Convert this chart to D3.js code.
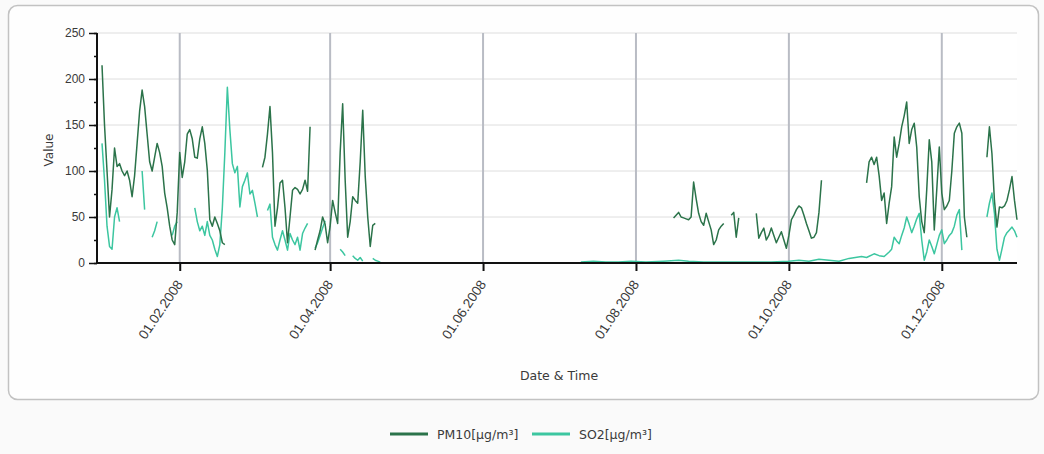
<!DOCTYPE html>
<html>
<head>
<meta charset="utf-8">
<script src="https://cdn.jsdelivr.net/npm/d3@7"></script>
<style>
	body { margin: 0; background: #fafafa; }
	svg { display: block; font-family: "DejaVu Sans", Verdana, sans-serif; }
	.axis text { font-size: 12px; fill: #3a3a3a; }
	.axis path, .axis line { stroke: #111; }
</style>
</head>
<body>
<div id="chart"></div>
<script>

// daily readings, dd.mm (2008), null = no data
var pm10Days = ["01.01","02.01","03.01","04.01","05.01","06.01","07.01","08.01","09.01","10.01","11.01","12.01","13.01","14.01","15.01","16.01","17.01","18.01","19.01","20.01","21.01","22.01","23.01","24.01","25.01","26.01","27.01","28.01","29.01","30.01","31.01","01.02","02.02","03.02","04.02","05.02","06.02","07.02","08.02","09.02","10.02","11.02","12.02","13.02","14.02","15.02","16.02","17.02","18.02","19.02","20.02",
	"05.03","06.03","07.03","08.03","09.03","10.03","11.03","12.03","13.03","14.03","15.03","16.03","17.03","18.03","19.03","20.03","21.03","22.03","23.03","24.03","25.03",
	"26.03","27.03","28.03","29.03","30.03","31.03","01.04","02.04","03.04","04.04","05.04","06.04","07.04","08.04","09.04","10.04","11.04","12.04","13.04","14.04","15.04","16.04","17.04","18.04","19.04","20.04",
	"16.08","17.08","18.08","19.08","20.08","21.08","22.08","23.08","24.08","25.08","26.08","27.08","28.08","29.08","30.08","31.08","01.09","02.09","03.09","04.09","05.09","06.09",
	"08.09","09.09","10.09","11.09","12.09",
	"18.09","19.09","20.09","21.09","22.09","23.09","24.09","25.09","26.09","27.09","28.09","29.09","30.09","01.10","02.10","03.10","04.10","05.10","06.10","07.10","08.10","09.10","10.10","11.10","12.10","13.10","14.10","15.10",
	"01.11","02.11","03.11","04.11","05.11","06.11","07.11","08.11","09.11","10.11","11.11","12.11","13.11","14.11","15.11","16.11","17.11","18.11","19.11","20.11","21.11","22.11","23.11","24.11","25.11","26.11","27.11","28.11","29.11","30.11","01.12","02.12","03.12","04.12","05.12","06.12","07.12","08.12","09.12","10.12","11.12","12.12",
	"19.12","20.12","21.12","22.12","23.12","24.12","25.12","26.12","27.12","28.12","29.12","30.12","31.12"]

var pm10Values = [215,150,100,50,80,125,105,108,100,95,100,90,72,95,130,165,188,170,140,110,100,115,130,120,105,76,60,40,25,20,55,120,93,110,140,145,135,115,114,135,148,130,101,47,40,50,43,35,22,20,null,
	104,115,140,170,120,40,60,87,90,60,22,50,79,82,80,75,80,90,78,148,null,
	14,25,35,50,42,22,40,68,55,43,120,173,90,28,45,72,68,65,110,166,94,50,18,41,43,null,
	49,52,55,50,49,48,47,50,88,70,54,45,41,54,45,36,20,25,36,40,43,null,
	52,55,28,49,null,
	54,27,33,38,25,30,38,30,22,28,34,25,16,30,47,52,58,62,60,52,43,35,27,28,33,55,90,null,
	87,110,115,107,115,95,68,76,43,65,83,137,115,130,148,160,175,130,145,152,126,72,45,33,80,134,110,36,80,126,76,58,62,68,100,141,148,152,141,50,28,null,
	115,148,119,68,39,61,60,62,68,80,94,68,47]

var so2Days = ["01.01","02.01","03.01","04.01","05.01","06.01","07.01","08.01","09.01",
	"17.01","18.01","19.01",
	"21.01","22.01","23.01","24.01",
	"29.01","30.01","31.01","01.02",
	"07.02","08.02","09.02","10.02","11.02","12.02","13.02","14.02","15.02","16.02","17.02","18.02","19.02","20.02","21.02","22.02","23.02","24.02","25.02","26.02","27.02","28.02","29.02","01.03","02.03","03.03","04.03",
	"07.03","08.03","09.03","10.03","11.03","12.03","13.03","14.03","15.03","16.03","17.03","18.03","19.03","20.03","21.03","22.03","23.03","24.03",
	"26.03","27.03","28.03","29.03","30.03","31.03",
	"05.04","06.04","07.04","08.04","10.04","11.04","12.04","13.04","14.04","15.04","18.04","19.04","20.04","21.04","22.04",
	"10.07","15.07","20.07","25.07","30.07","05.08","12.08","18.08","22.08","28.08","03.09","10.09","17.09","24.09","01.10","05.10","09.10","13.10","17.10","21.10","25.10","30.10",
	"01.11","04.11","06.11","08.11","10.11","11.11","12.11","13.11","14.11","15.11","16.11","17.11","18.11","19.11","20.11","21.11","22.11","23.11","24.11","25.11","26.11","27.11","28.11","29.11","30.11","01.12","02.12","03.12","04.12","05.12","06.12","07.12","08.12","09.12","10.12",
	"19.12","20.12","21.12","22.12","23.12","24.12","25.12","26.12","27.12","28.12","29.12","30.12","31.12"]

var so2Values = [130,90,40,18,15,50,60,45,null,
	100,58,null,
	28,35,45,null,
	30,40,45,null,
	60,45,35,40,30,45,30,25,15,7,20,60,120,191,145,108,98,105,61,83,90,98,75,79,65,50,null,
	57,64,28,20,14,25,35,25,14,32,25,20,28,14,32,38,43,null,
	16,22,30,38,46,null,
	15,12,8,null,8,5,3,6,2,null,5,3,2,1,null,
	1,2,1,1,2,1,2,3,2,1,1,1,1,1,2,3,2,4,3,2,5,7,
	6,10,8,7,12,15,28,24,21,30,38,50,42,33,40,48,54,25,3,12,25,18,10,20,30,36,21,25,30,33,40,52,58,14,null,
	50,65,76,54,15,3,15,28,33,36,39,35,28]

var yTicks = [0, 50, 100, 150, 200, 250]
var xTicks = ["01.02","01.04","01.06","01.08","01.10","01.12"]

var seriesNames = ["PM10[µg/m³]", "SO2[µg/m³]"]
var seriesColors = ["#2b734a", "#3cc6a0"]

var parseDay = function(s) { return d3.timeParse("%d.%m.%Y")(s + ".2008") }

function toPoints(days, values) {
	return days.map(function(d, i) { return { date: parseDay(d), value: values[i] } })
}

var series = [toPoints(pm10Days, pm10Values), toPoints(so2Days, so2Values)]

var W = 1044, H = 454
var margin = {top: 33, right: 27, bottom: 191, left: 97}
var width = W - margin.left - margin.right
var height = H - margin.top - margin.bottom

var svg = d3.select("#chart").append("svg")
	.attr("width", W)
	.attr("height", H)

// outer panel
svg.append("rect")
	.attr("x", 8.5).attr("y", 5.5)
	.attr("width", 1030).attr("height", 394)
	.attr("rx", 9)
	.attr("fill", "#fefefe")
	.attr("stroke", "#c2c2c2")
	.attr("stroke-width", 1.5)

var x = d3.scaleTime()
	.domain([new Date(2007, 11, 30), new Date(2008, 11, 31)])
	.range([0, width])

var y = d3.scaleLinear().domain([0, 250]).range([height, 0])

var g = svg.append("g").attr("transform", "translate(" + margin.left + "," + margin.top + ")")

g.append("rect").attr("width", width).attr("height", height).attr("fill", "#fff")

// horizontal grid
g.append("g")
	.selectAll("line")
	.data(yTicks.slice(1))
	.enter().append("line")
	.attr("x1", 0).attr("x2", width)
	.attr("y1", function(d) { return y(d) })
	.attr("y2", function(d) { return y(d) })
	.attr("stroke", "#dedede")
	.attr("stroke-width", 1)

// vertical grid
g.append("g")
	.selectAll("line")
	.data(xTicks)
	.enter().append("line")
	.attr("x1", function(d) { return x(parseDay(d)) })
	.attr("x2", function(d) { return x(parseDay(d)) })
	.attr("y1", 0).attr("y2", height)
	.attr("stroke", "#b9bcc4")
	.attr("stroke-width", 2)

var line = d3.line()
	.defined(function(d) { return d.value != null })
	.x(function(d) { return x(d.date) })
	.y(function(d) { return y(d.value) })

// SO2 under PM10
g.selectAll(".series")
	.data([1, 0])
	.enter().append("path")
	.attr("class", "series")
	.attr("d", function(i) { return line(series[i]) })
	.attr("fill", "none")
	.attr("stroke", function(i) { return seriesColors[i] })
	.attr("stroke-width", 1.5)
	.attr("stroke-linejoin", "round")

// y axis, minor ticks every 25
g.append("g")
	.attr("class", "axis")
	.call(d3.axisLeft(y).tickValues(d3.range(0, 251, 25)).tickSize(3).tickFormat(""))
	.call(function(a) { a.select(".domain").remove() })
	.selectAll("line").attr("stroke-width", 1.5)

var yAxis = g.append("g")
	.attr("class", "axis")
	.call(d3.axisLeft(y).tickValues(yTicks).tickSize(8).tickPadding(4))
yAxis.select(".domain").attr("stroke-width", 2).attr("d", "M0," + height + "V0")
yAxis.selectAll("line").attr("stroke-width", 1.5)

var xAxis = g.append("g")
	.attr("class", "axis")
	.attr("transform", "translate(0," + height + ")")
	.call(d3.axisBottom(x).tickValues(xTicks.map(parseDay)).tickSize(8).tickFormat(d3.timeFormat("%d.%m.%Y")))
xAxis.select(".domain").attr("stroke-width", 2).attr("d", "M0,0H" + width)
xAxis.selectAll("line").attr("stroke-width", 2)
xAxis.selectAll("text")
	.style("font-size", "13.5px")
	.attr("text-anchor", "end")
	.attr("dx", 0).attr("dy", 0)
	.attr("transform", "translate(-6,15) rotate(-56)")

// axis titles
g.append("text")
	.attr("x", width / 2 + 2).attr("y", height + 117)
	.attr("text-anchor", "middle")
	.style("font-size", "12.5px").style("fill", "#3a3a3a")
	.text("Date & Time")

g.append("text")
	.attr("transform", "translate(" + (-44) + "," + (height / 2 + 2) + ") rotate(-90)")
	.attr("text-anchor", "middle")
	.style("font-size", "12px").style("fill", "#3a3a3a")
	.text("Value")

// legend
var legend = svg.append("g").attr("transform", "translate(390,434)")
var offsets = [0, 142]
seriesNames.forEach(function(name, i) {
	var item = legend.append("g").attr("transform", "translate(" + offsets[i] + ",0)")
	item.append("line")
		.attr("x1", 0).attr("x2", 38)
		.attr("stroke", seriesColors[i]).attr("stroke-width", 3)
	item.append("text")
		.attr("x", 47).attr("y", 4.5)
		.style("font-size", "12.5px").style("fill", "#3a3a3a")
		.text(name)
})

</script>
</body>
</html>
